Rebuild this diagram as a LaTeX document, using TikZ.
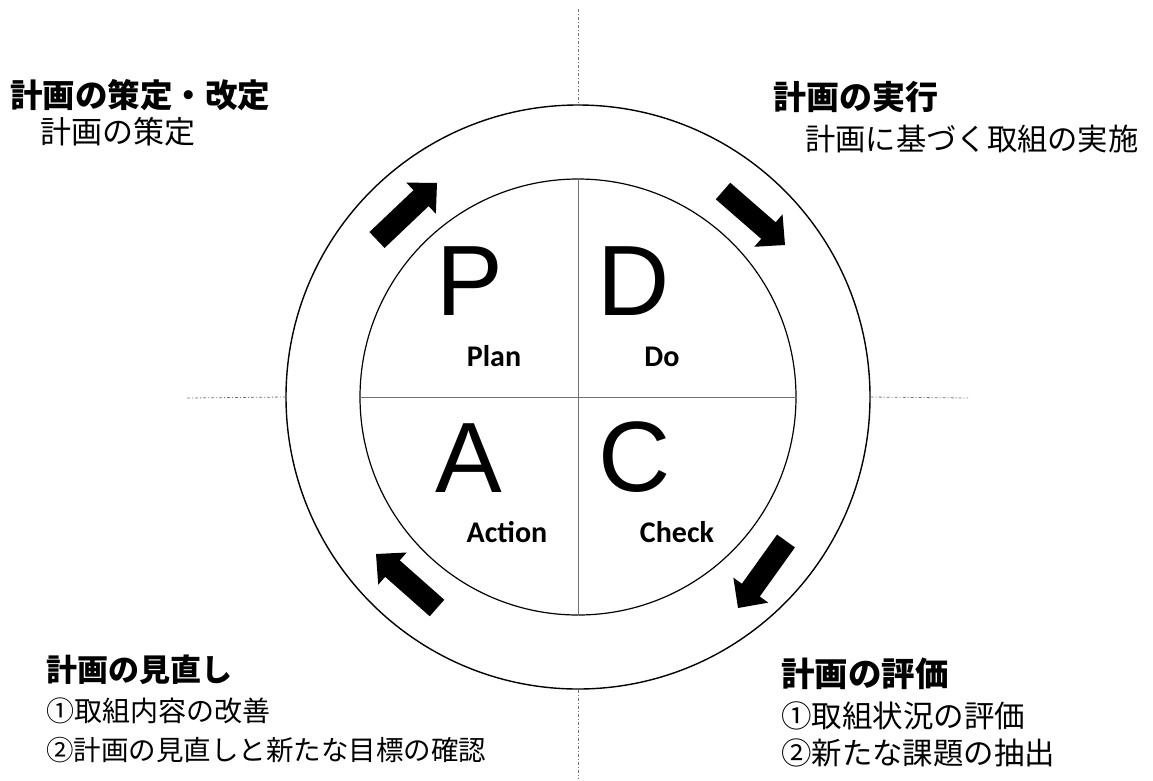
\documentclass[tikz,border=0pt]{standalone}
\usepackage{fontspec}
\usetikzlibrary{calc}
\newfontfamily\jp{Noto Sans CJK JP}
\newfontfamily\arialfont{Liberation Sans}
\newfontfamily\calibrifont{Carlito}
\newcommand\pdcaarrow[2]{%
  \path ($(#2)!22pt!(#1)$) coordinate (bah);
  \fill ($(#1)!11pt!90:(#2)$) -- ($(bah)!11pt!90:(#2)$) -- ($(bah)!21.5pt!90:(#2)$) -- (#2)
     -- ($(bah)!21.5pt!-90:(#2)$) -- ($(bah)!11pt!-90:(#2)$) -- ($(#1)!11pt!-90:(#2)$) -- cycle;}
\tikzset{
  ring/.style={circle, draw=black, line width=1.4pt, inner sep=0pt},
  cross/.style={draw=black!55, line width=0.9pt},
  guide/.style={draw=black!55, line width=0.8pt, dash pattern=on 3pt off 2pt on 1pt off 2pt},
  bigletter/.style={anchor=base, inner sep=0pt, font=\arialfont\fontsize{100}{100}\selectfont},
  word/.style={anchor=base, inner sep=0pt, font=\calibrifont\bfseries\fontsize{30}{30}\selectfont},
  jhead/.style={anchor=west, inner sep=0pt, font=\jp\bfseries\fontsize{#1}{#1}\selectfont},
  jtext/.style={anchor=west, inner sep=0pt, font=\jp\fontsize{#1}{#1}\selectfont},
}
\begin{document}
\begin{tikzpicture}[x=1pt,y=-1pt]
\useasboundingbox (0,0) rectangle (1153,780);
\fill[white] (0,0) rectangle (1153,780);
% circles
\node[ring, minimum size=584pt] (outer) at (578,397) {};
\node[ring, minimum size=436pt, line width=1.2pt] (inner) at (578,397) {};
% cross
\draw[cross] (inner.north) -- (inner.south);
\draw[cross] (inner.west) -- (inner.east);
% guide lines
\coordinate (gt) at (578,9);
\coordinate (gb) at (578,778);
\coordinate (gl) at (187,398);
\coordinate (gr) at (968,398);
\draw[guide] (gt) -- (outer.north);
\draw[guide] (outer.south) -- (gb);
\draw[guide] (gl) -- (outer.west);
\draw[guide] (outer.east) -- (gr);
% letters
\node[bigletter] (P) at (470,315) {P};
\node[bigletter] (D) at (634,315) {D};
\node[bigletter] (A) at (469,492) {A};
\node[bigletter] (C) at (635,491) {C};
\node[word] (plan) at (494,366) {Plan};
\node[word] (do) at (662,366) {Do};
\node[word] (action) at (507,542) {Action};
\node[word] (check) at (677,542) {Check};
% arrows
\coordinate (a1t) at (377,240); \coordinate (a1h) at (437,183);
\coordinate (a2t) at (723,191); \coordinate (a2h) at (785,245);
\coordinate (a3t) at (786,541); \coordinate (a3h) at (738,608);
\coordinate (a4t) at (437,608); \coordinate (a4h) at (376,554);
\pdcaarrow{a1t}{a1h}
\pdcaarrow{a2t}{a2h}
\pdcaarrow{a3t}{a3h}
\pdcaarrow{a4t}{a4h}
% texts
\node[jhead=32.5] (tl1) at (10,95) {計画の策定・改定};
\node[jtext=31] (tl2) at (40,132) {計画の策定};
\node[jhead=33] (tr1) at (773,97) {計画の実行};
\node[jtext=30.3] (tr2) at (805,139) {計画に基づく取組の実施};
\node[jhead=31] (bl1) at (46,670) {計画の見直し};
\node[jtext=28] (bl2) at (46,711) {①取組内容の改善};
\node[jtext=27.5] (bl3) at (46,750) {②計画の見直しと新たな目標の確認};
\node[jhead=33.5] (br1) at (781,674) {計画の評価};
\node[jtext=30.5] (br2) at (781,716) {①取組状況の評価};
\node[jtext=30.4] (br3) at (781,753) {②新たな課題の抽出};
\end{tikzpicture}
\end{document}
